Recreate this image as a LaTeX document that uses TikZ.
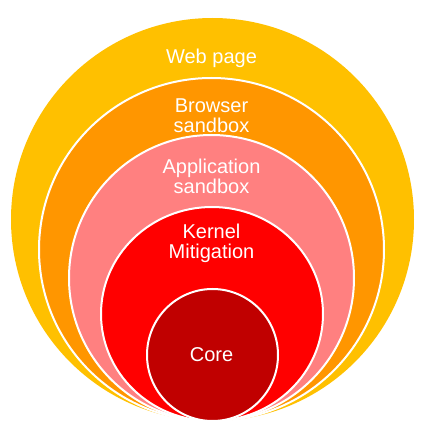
\documentclass[tikz,border=0pt]{standalone}
\usepackage{fontspec}
\setmainfont{Liberation Sans}
\definecolor{cweb}{HTML}{FFC000}
\definecolor{cbrowser}{HTML}{FF9600}
\definecolor{capp}{HTML}{FF8080}
\definecolor{ckernel}{HTML}{FF0000}
\definecolor{ccore}{HTML}{C00000}
\begin{document}
\begin{tikzpicture}[x=1pt,y=1pt,
  ring/.style={draw=white,line width=2pt},
  lbl/.style={text=white,font=\fontsize{20}{20.5}\selectfont,align=center,inner sep=0pt,anchor=base}]
\useasboundingbox (0,0) rectangle (422,437);
\fill[cweb] (212.5,217.5) ellipse [x radius=201.5,y radius=201.5];
\filldraw[ring,fill=cbrowser] (211.5,187.5) ellipse [x radius=172.5,y radius=171.5];
\filldraw[ring,fill=capp] (211.5,159) ellipse [x radius=142.5,y radius=143];
\filldraw[ring,fill=ckernel] (212,123) ellipse [x radius=111,y radius=107];
\filldraw[ring,fill=ccore] (212.5,82) ellipse [x radius=65.5,y radius=66];
\node[lbl] (web) at (211.5,373) {Web page};
\node[lbl] (browser) at (211.5,304) {Browser\\sandbox};
\node[lbl] (app) at (211.5,243) {Application\\sandbox};
\node[lbl] (kernel) at (211.5,178) {Kernel\\Mitigation};
\node[lbl] (core) at (211.5,75) {Core};
\end{tikzpicture}
\end{document}
